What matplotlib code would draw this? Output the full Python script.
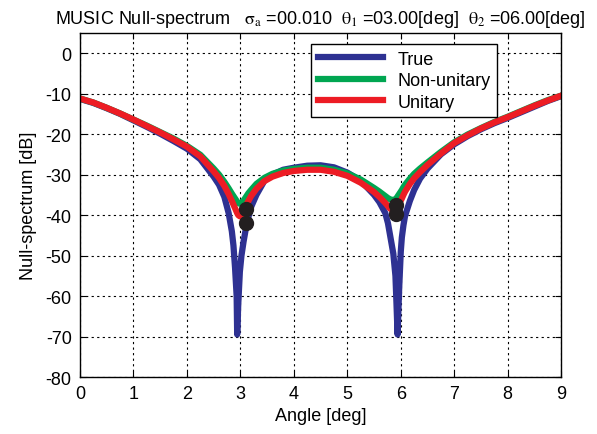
import numpy as np
import matplotlib
matplotlib.use('Agg')
from matplotlib import pyplot as plt

plt.rcParams['font.family'] = ['Liberation Sans', 'DejaVu Sans']
plt.rcParams['mathtext.fontset'] = 'stix'
plt.rcParams['axes.unicode_minus'] = False

# angle grid [deg] (denser around the nulls)
angle = [0, 0.25, 0.5, 0.75, 1, 1.25, 1.5, 1.75, 2, 2.25, 2.5, 2.6, 2.7, 2.78, 2.84, 2.87,
         2.9, 2.93, 2.94, 2.96, 2.99, 3.02, 3.06, 3.1, 3.15, 3.2, 3.3, 3.45, 3.6, 3.8, 4.0,
         4.25, 4.5, 4.75, 5.0, 5.25, 5.5, 5.6, 5.71, 5.76, 5.8, 5.86, 5.9, 5.92, 5.94, 5.97,
         6.0, 6.02, 6.05, 6.08, 6.17, 6.25, 6.36, 6.5, 6.75, 7, 7.25, 7.5, 7.75, 8, 8.25,
         8.5, 8.75, 9]

true_db = [-11.3, -12.3, -13.6, -15.0, -16.6, -18.2, -19.9, -21.7, -23.6, -26.2, -30.5, -32.5,
           -35.5, -39.5, -44, -47.5, -53, -60, -69.5, -62, -54, -50, -46.5, -43.5, -40.5, -38,
           -35, -31.5, -30, -28.8, -28.3, -27.8, -27.7, -28.2, -29.5, -31.5, -35, -36.8, -39.5,
           -42, -45, -49.5, -55, -62, -69.5, -58, -49, -45.5, -42.5, -40.2, -36.5, -33.8, -31.0,
           -28.5, -25.0, -22.5, -20.5, -18.8, -17.3, -16.0, -14.6, -13.2, -11.8, -10.6]

nonunitary_db = [-11.2, -12.2, -13.5, -14.9, -16.4, -17.9, -19.5, -21.1, -22.9, -25.1, -28.5,
                 -30.0, -31.8, -33.4, -34.7, -35.3, -35.9, -36.5, -36.7, -37.0, -37.2, -37.0,
                 -36.4, -35.6, -34.6, -33.8, -32.3, -30.8, -29.8, -29.0, -28.6, -28.3, -28.3,
                 -28.8, -29.7, -31.2, -33.3, -34.2, -35.3, -35.8, -36.1, -36.3, -36.1, -35.8,
                 -35.4, -34.8, -34.2, -33.8, -33.1, -32.5, -31.0, -29.8, -28.5, -27.0, -24.4,
                 -22.0, -20.1, -18.5, -17.0, -15.7, -14.3, -12.9, -11.6, -10.5]

unitary_db = [-11.2, -12.2, -13.5, -14.9, -16.4, -18.0, -19.6, -21.3, -23.1, -25.5, -29.2, -30.8,
              -32.8, -34.8, -36.5, -37.4, -38.3, -39.2, -39.5, -40.0, -40.3, -40.0, -39.0, -37.8,
              -36.5, -35.3, -33.5, -31.6, -30.5, -29.6, -29.1, -28.8, -28.8, -29.3, -30.3, -32.0,
              -34.3, -35.5, -37.0, -37.8, -38.4, -38.9, -38.7, -38.3, -37.9, -37.2, -36.4, -35.9,
              -35.0, -34.2, -32.3, -30.9, -29.4, -27.6, -24.8, -22.2, -20.3, -18.6, -17.1, -15.8,
              -14.4, -13.0, -11.7, -10.5]

# estimated null positions
est_angle = [3.1, 3.1, 5.91, 5.91]
est_db = [-38.6, -42.0, -37.5, -39.8]

fig = plt.figure(figsize=(5.97, 4.35), dpi=100)
ax = fig.add_axes([0.134, 0.131, 0.806, 0.791])

ax.plot(angle, true_db, color='#2e3192', lw=4.5, label='True')
ax.plot(angle, nonunitary_db, color='#00a651', lw=4.5, label='Non-unitary')
ax.plot(angle, unitary_db, color='#ed1c24', lw=4.5, label='Unitary')
ax.plot(est_angle, est_db, 'o', color='#231f20', ms=10, zorder=5)

ax.set_xlim(0, 9)
ax.set_ylim(-80, 5)
ax.set_xticks(np.arange(0, 10, 1))
ax.set_yticks(np.arange(-80, 1, 10))
ax.tick_params(direction='in', top=True, right=True, labelsize=13, length=4, width=0.8, pad=6)
ax.grid(True, color='black', linestyle=(0, (2, 3)), lw=0.8)
for s in ax.spines.values():
    s.set_linewidth(1.0)

ax.set_xlabel('Angle [deg]', fontsize=13, labelpad=3)
ax.set_ylabel('Null-spectrum [dB]', fontsize=13, labelpad=6)
ax.set_title(r'MUSIC Null-spectrum   $\mathrm{\sigma_a}$ =00.010  $\mathrm{\theta_1}$ =03.00[deg]  $\mathrm{\theta_2}$ =06.00[deg]',
             fontsize=13, pad=7)

leg = ax.legend(loc='upper left', bbox_to_anchor=(0.481, 0.967), fontsize=13, handlelength=3.6,
                labelspacing=0.25, borderaxespad=0, borderpad=0.35, fancybox=False, framealpha=1,
                edgecolor='black')
leg.get_frame().set_linewidth(1.0)

plt.savefig('out.png', dpi=100)
